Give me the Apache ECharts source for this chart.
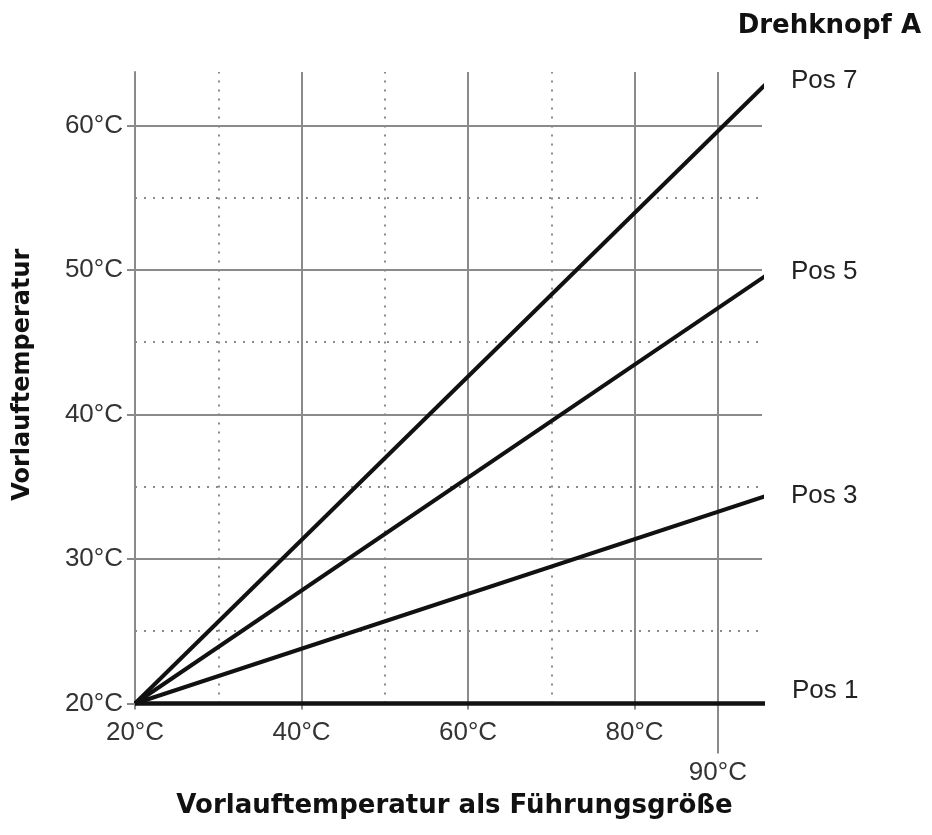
<!DOCTYPE html>
<html>
<head>
<meta charset="utf-8">
<title>Drehknopf A</title>
<script src="https://cdn.jsdelivr.net/npm/echarts@6/dist/echarts.min.js"></script>
<style>
  html, body { margin: 0; padding: 0; background: #fff; }
  #chart { width: 932px; height: 835px; }
</style>
</head>
<body>
<div id="chart"></div>
<script>
// data
var seriesNames = ['Pos 7', 'Pos 5', 'Pos 3', 'Pos 1'];
var lineX = [20, 96];              // every line starts at 20°C and runs to ~96°C
var pos7 = [20, 63.0];
var pos5 = [20, 49.7];
var pos3 = [20, 34.4];
var pos1 = [20, 20];
var labelOffsets = [[0, -5], [0, -5], [0, -1], [0, -13]];

var xTickLabels = [20, 40, 60, 80];
var xExtraTick = [90];
var yTickLabels = [20, 30, 40, 50, 60];

// grid lines
var xSolid = [40, 60, 80, 90];
var xDotted = [30, 50, 70];
var ySolid = [30, 40, 50, 60];
var yDotted = [25, 35, 45, 55];

var font = "'Liberation Sans', Arial, sans-serif";
var boldFont = "'DejaVu Sans', 'Liberation Sans', sans-serif";
var gridGray = '#8a8a8a';

function pairs(ys) {
  return lineX.map(function (x, i) { return [x, ys[i]]; });
}

var gridLines = [];
xSolid.forEach(function (v) { gridLines.push({ xAxis: v, lineStyle: { type: 'solid' } }); });
xDotted.forEach(function (v) { gridLines.push({ xAxis: v, lineStyle: { type: [2, 7] } }); });
ySolid.forEach(function (v) { gridLines.push({ yAxis: v, lineStyle: { type: 'solid' } }); });
yDotted.forEach(function (v) { gridLines.push({ yAxis: v, lineStyle: { type: [2, 7] } }); });

var allData = [pos7, pos5, pos3, pos1];
var series = allData.map(function (d, i) {
  return {
    name: seriesNames[i],
    type: 'line',
    data: pairs(d),
    clip: false,
    symbol: 'none',
    z: 5,
    lineStyle: { color: '#111', width: i === 3 ? 4.5 : 4 },
    endLabel: {
      show: true,
      formatter: '{a}',
      distance: 27,
      offset: labelOffsets[i],
      color: '#222',
      fontSize: 26,
      fontFamily: font
    }
  };
});

series.push({
  name: 'grid',
  type: 'line',
  data: [],
  silent: true,
  markLine: {
    silent: true,
    symbol: 'none',
    z: 1,
    label: { show: false },
    lineStyle: { color: gridGray, width: 2 },
    emphasis: { disabled: true },
    data: gridLines
  }
});

var chart = echarts.init(document.getElementById('chart'));
chart.setOption({
  animation: false,
  backgroundColor: '#fff',
  title: {
    text: 'Drehknopf A',
    right: 6,
    top: 8,
    textStyle: { fontFamily: boldFont, fontSize: 26, fontWeight: 'bold', color: '#111' }
  },
  grid: { left: 135, right: 170, top: 72, bottom: 131.5 },
  xAxis: [{
    type: 'value',
    min: 20,
    max: 95.3,
    interval: 10,
    name: 'Vorlauftemperatur als Führungsgröße',
    nameLocation: 'middle',
    nameGap: 90,
    nameTextStyle: { fontFamily: boldFont, fontSize: 26, fontWeight: 'bold', color: '#111', padding: [0, 0, 0, 12] },
    axisLine: { lineStyle: { color: gridGray, width: 2 } },
    axisTick: { customValues: xTickLabels, length: 6, lineStyle: { color: gridGray, width: 2 } },
    axisLabel: {
      customValues: xTickLabels,
      formatter: '{value}°C',
      margin: 16,
      fontFamily: font,
      fontSize: 26,
      color: '#333'
    },
    splitLine: { show: false }
  }, {
    type: 'value',
    min: 20,
    max: 95.3,
    interval: 10,
    position: 'bottom',
    axisLine: { show: false },
    axisTick: { customValues: xExtraTick, length: 50, lineStyle: { color: gridGray, width: 2 } },
    axisLabel: {
      customValues: xExtraTick,
      formatter: '{value}°C',
      margin: 56,
      fontFamily: font,
      fontSize: 26,
      color: '#333'
    },
    splitLine: { show: false }
  }],
  yAxis: {
    type: 'value',
    min: 20,
    max: 63.7,
    interval: 10,
    name: 'Vorlauftemperatur',
    nameLocation: 'middle',
    nameGap: 100,
    nameTextStyle: { fontFamily: boldFont, fontSize: 24, fontWeight: 'bold', color: '#111', padding: [0, 0, 0, 26] },
    axisLine: { show: true, lineStyle: { color: gridGray, width: 2 } },
    axisTick: { show: true, customValues: yTickLabels, length: 8, lineStyle: { color: gridGray, width: 2 } },
    axisLabel: {
      customValues: yTickLabels,
      formatter: '{value}°C',
      margin: 12,
      fontFamily: font,
      fontSize: 26,
      color: '#333'
    },
    splitLine: { show: false }
  },
  series: series
});
</script>
</body>
</html>
